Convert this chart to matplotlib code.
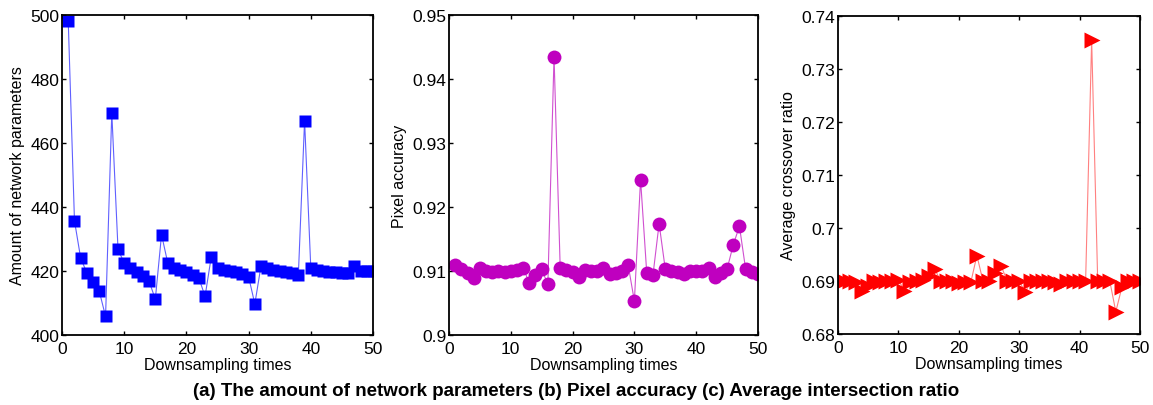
import matplotlib
matplotlib.use('Agg')
import matplotlib.pyplot as plt
from matplotlib.ticker import FuncFormatter

plt.rcParams['font.family'] = ['Liberation Sans', 'DejaVu Sans']

times = list(range(1, 51))

params = [498, 435.7, 424.0, 419.4, 416.7, 413.6, 405.8, 469.5, 426.9, 422.4,
          420.8, 419.6, 418.3, 416.8, 411.2, 431.4, 422.5, 421.1, 420.4, 419.6,
          418.8, 417.8, 412.1, 424.5, 420.9, 420.4, 420.0, 419.6, 419.0, 418.2,
          409.7, 421.7, 420.8, 420.4, 420.1, 419.8, 419.4, 418.8, 467.0, 420.9,
          420.3, 420.0, 419.8, 419.6, 419.5, 419.3, 421.7, 420.1, 420.0, 420.0]

pixel_acc = [0.9110, 0.9103, 0.9097, 0.9089, 0.9104, 0.9100, 0.9099, 0.9100, 0.9098, 0.9100,
             0.9102, 0.9105, 0.9081, 0.9093, 0.9103, 0.9079, 0.9435, 0.9104, 0.9101, 0.9099,
             0.9091, 0.9102, 0.9100, 0.9100, 0.9104, 0.9095, 0.9097, 0.9100, 0.9109, 0.9053,
             0.9243, 0.9097, 0.9093, 0.9174, 0.9103, 0.9100, 0.9099, 0.9096, 0.9100, 0.9100,
             0.9100, 0.9105, 0.9091, 0.9097, 0.9103, 0.9141, 0.9170, 0.9103, 0.9098, 0.9096]

crossover = [0.6900, 0.6900, 0.6898, 0.6882, 0.6890, 0.6900, 0.6898, 0.6900, 0.6900, 0.6902,
             0.6882, 0.6898, 0.6900, 0.6902, 0.6910, 0.6923, 0.6900, 0.6900, 0.6900, 0.6897,
             0.6898, 0.6898, 0.6948, 0.6900, 0.6900, 0.6916, 0.6929, 0.6900, 0.6900, 0.6900,
             0.6879, 0.6900, 0.6900, 0.6900, 0.6900, 0.6898, 0.6895, 0.6900, 0.6900, 0.6900,
             0.6900, 0.7355, 0.6900, 0.6900, 0.6900, 0.6842, 0.6888, 0.6900, 0.6900, 0.6900]

fig = plt.figure(figsize=(11.53, 4.06), dpi=100)

ax1 = fig.add_axes([0.0538, 0.1724, 0.2697, 0.788])
ax2 = fig.add_axes([0.3894, 0.1724, 0.2680, 0.788])
ax3 = fig.add_axes([0.7268, 0.1749, 0.2619, 0.7833])

ax1.plot(times, params, '-', color='#6060ff', lw=0.8)
ax1.plot(times, params, 's', color='#0000ff', ms=8, mec='none')
ax1.set_ylim(400, 500)
ax1.set_yticks([400, 420, 440, 460, 480, 500])
ax1.set_ylabel('Amount of network parameters', fontsize=11.5)

ax2.plot(times, pixel_acc, '-', color='#d050d0', lw=0.8)
ax2.plot(times, pixel_acc, 'o', color='#bf00bf', ms=10, mec='none')
ax2.set_ylim(0.9, 0.95)
ax2.set_yticks([0.9, 0.91, 0.92, 0.93, 0.94, 0.95])
ax2.set_ylabel('Pixel accuracy', fontsize=11.5)

ax3.plot(times, crossover, '-', color='#ff8080', lw=0.8)
ax3.plot(times, crossover, '>', color='#ff0000', ms=11, mec='none')
ax3.set_ylim(0.68, 0.74)
ax3.set_yticks([0.68, 0.69, 0.7, 0.71, 0.72, 0.73, 0.74])
ax3.set_ylabel('Average crossover ratio', fontsize=11.5)

fmt = FuncFormatter(lambda v, p: ('%g' % round(v, 4)))
for ax in (ax1, ax2, ax3):
    ax.set_xlim(0, 50)
    ax.set_xticks([0, 10, 20, 30, 40, 50])
    ax.yaxis.set_major_formatter(fmt)
    ax.tick_params(direction='in', top=True, right=True, length=3, width=1,
                   labelsize=12.5)
    ax.tick_params(axis='x', pad=4)
    ax.tick_params(axis='y', pad=2)
    ax.set_xlabel('Downsampling times', fontsize=11.5, labelpad=1)
    for s in ax.spines.values():
        s.set_linewidth(1.3)

fig.text(0.5, 0.035, '(a) The amount of network parameters (b) Pixel accuracy (c) Average intersection ratio',
         ha='center', va='center', fontsize=13.5, fontweight='bold')

fig.savefig('out.png', dpi=100)
